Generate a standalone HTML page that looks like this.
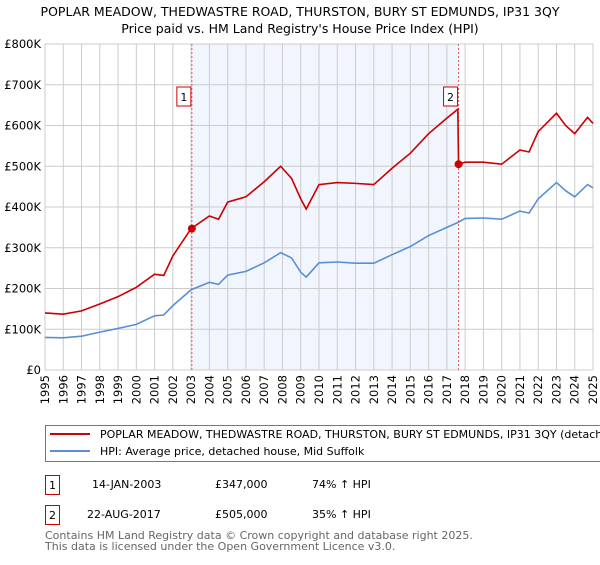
<!DOCTYPE html>
<html><head><meta charset="utf-8"><style>
body{margin:0;background:#fff;font-family:"Liberation Sans","DejaVu Sans",sans-serif;}
svg text{font-family:"DejaVu Sans","Liberation Sans",sans-serif;}
</style></head><body>
<svg id="c" width="600" height="560" xmlns="http://www.w3.org/2000/svg">
<text x="300" y="16" text-anchor="middle" font-size="12.5" fill="#000">POPLAR MEADOW, THEDWASTRE ROAD, THURSTON, BURY ST EDMUNDS, IP31 3QY</text>
<text x="300" y="33" text-anchor="middle" font-size="12.5" fill="#000">Price paid vs. HM Land Registry's House Price Index (HPI)</text>
<g id="plot"></g>
<rect x="45.5" y="425.5" width="570" height="36" fill="#fff" stroke="#777" stroke-width="1"/>
<line x1="50" y1="434" x2="90" y2="434" stroke="#cc0000" stroke-width="2"/>
<text x="100" y="438" font-size="11">POPLAR MEADOW, THEDWASTRE ROAD, THURSTON, BURY ST EDMUNDS, IP31 3QY (detached h</text>
<line x1="50" y1="451" x2="90" y2="451" stroke="#5b8fd4" stroke-width="2"/>
<text x="100" y="455" font-size="11">HPI: Average price, detached house, Mid Suffolk</text>
<rect x="45.5" y="475.5" width="14" height="19" fill="#fff" stroke="#cc0000"/>
<text x="52.5" y="489" text-anchor="middle" font-size="11">1</text>
<text x="92" y="488" font-size="11">14-JAN-2003</text>
<text x="215" y="488" font-size="11">£347,000</text>
<text x="312" y="488" font-size="11">74% ↑ HPI</text>
<rect x="45.5" y="505.5" width="14" height="19" fill="#fff" stroke="#cc0000"/>
<text x="52.5" y="519" text-anchor="middle" font-size="11">2</text>
<text x="87" y="518" font-size="11">22-AUG-2017</text>
<text x="215" y="518" font-size="11">£505,000</text>
<text x="312" y="518" font-size="11">35% ↑ HPI</text>
<text x="45" y="539" font-size="11" fill="#666">Contains HM Land Registry data © Crown copyright and database right 2025.</text>
<text x="45" y="550" font-size="11" fill="#666">This data is licensed under the Open Government Licence v3.0.</text>
</svg>
<script>
const yearTicks=[1995,1996,1997,1998,1999,2000,2001,2002,2003,2004,2005,2006,2007,2008,2009,2010,2011,2012,2013,2014,2015,2016,2017,2018,2019,2020,2021,2022,2023,2024,2025];
const yTicks=[0,100,200,300,400,500,600,700,800];
const yTickLabels=["£0","£100K","£200K","£300K","£400K","£500K","£600K","£700K","£800K"];
const hpiX=[1995,1996,1997,1998,1999,2000,2001,2001.5,2002,2003,2004,2004.5,2005,2006,2007,2007.9,2008.5,2009.0,2009.3,2010,2011,2012,2013,2014,2015,2016,2017,2017.6,2018,2019,2020,2021,2021.5,2022,2023,2023.5,2024,2024.7,2025];
const hpiY=[80,79,83,93,102,112,133,135,158,197,215,210,233,242,263,288,275,240,228,263,265,262,262,283,303,330,350,362,372,373,370,390,385,420,460,440,425,455,447];
const priceX=[1995,1996,1997,1998,1999,2000,2001,2001.5,2002,2003,2004,2004.5,2005,2006,2007,2007.9,2008.5,2009.0,2009.3,2010,2011,2012,2013,2014,2015,2016,2017,2017.6,2017.64,2018,2019,2020,2021,2021.5,2022,2023,2023.5,2024,2024.7,2025];
const priceY=[140,137,145,162,180,203,235,232,280,347,378,370,412,425,462,500,470,420,395,455,460,458,455,495,532,580,618,640,505,510,510,505,540,535,585,630,600,580,620,605];
const saleX=[2003.04,2017.64];
const saleY=[347,505];
const saleLabels=["1","2"];
const NS="http://www.w3.org/2000/svg";
const L=45,R=593,T=44,B=370;
const xs=v=>L+(v-1995)/30*(R-L);
const ys=v=>B-v/800*(B-T);
const g=document.getElementById('plot');
function mk(t,a){const e=document.createElementNS(NS,t);for(const k in a)e.setAttribute(k,a[k]);g.appendChild(e);return e;}
let sh=mk('rect',{x:xs(saleX[0]),y:T,width:xs(saleX[1])-xs(saleX[0]),height:B-T,fill:'#eef3fc',opacity:0.8});


yearTicks.forEach(y=>{let l=mk('line',{x1:xs(y),x2:xs(y),y1:T,y2:B,stroke:'#ccc','stroke-width':1});


let t=mk('text',{x:0,y:0,'font-size':11.5,'text-anchor':'end',transform:`translate(${xs(y)+4},${B+5}) rotate(-90)`});t.textContent=y;

});
yTicks.forEach((v,i)=>{let l=mk('line',{x1:L,x2:R,y1:ys(v),y2:ys(v),stroke:'#ccc','stroke-width':1});


let t=mk('text',{x:L-4,y:ys(v)+4,'font-size':11.5,'text-anchor':'end'});t.textContent=yTickLabels[i];

});
saleX.forEach((s,i)=>{let l=mk('line',{x1:xs(s),x2:xs(s),y1:T,y2:B,stroke:'#e06060','stroke-width':1,'stroke-dasharray':'2,2'});

});
function line(X,Y,c,n){let p=mk('polyline',{points:X.map((x,i)=>xs(x)+','+ys(Y[i])).join(' '),fill:'none',stroke:c,'stroke-width':1.6});

}
line(hpiX,hpiY,'#5b8fd4','hpi-line');
line(priceX,priceY,'#cc0000','price-line');
saleX.forEach((s,i)=>{let c=mk('circle',{cx:xs(s),cy:ys(saleY[i]),r:4,fill:'#cc0000'});


let b=mk('rect',{x:xs(s)-15,y:87,width:14,height:19,fill:'#fff',stroke:'#cc0000'});


let t=mk('text',{x:xs(s)-8,y:101,'font-size':11,'text-anchor':'middle'});t.textContent=saleLabels[i];

});
</script>
</body></html>
